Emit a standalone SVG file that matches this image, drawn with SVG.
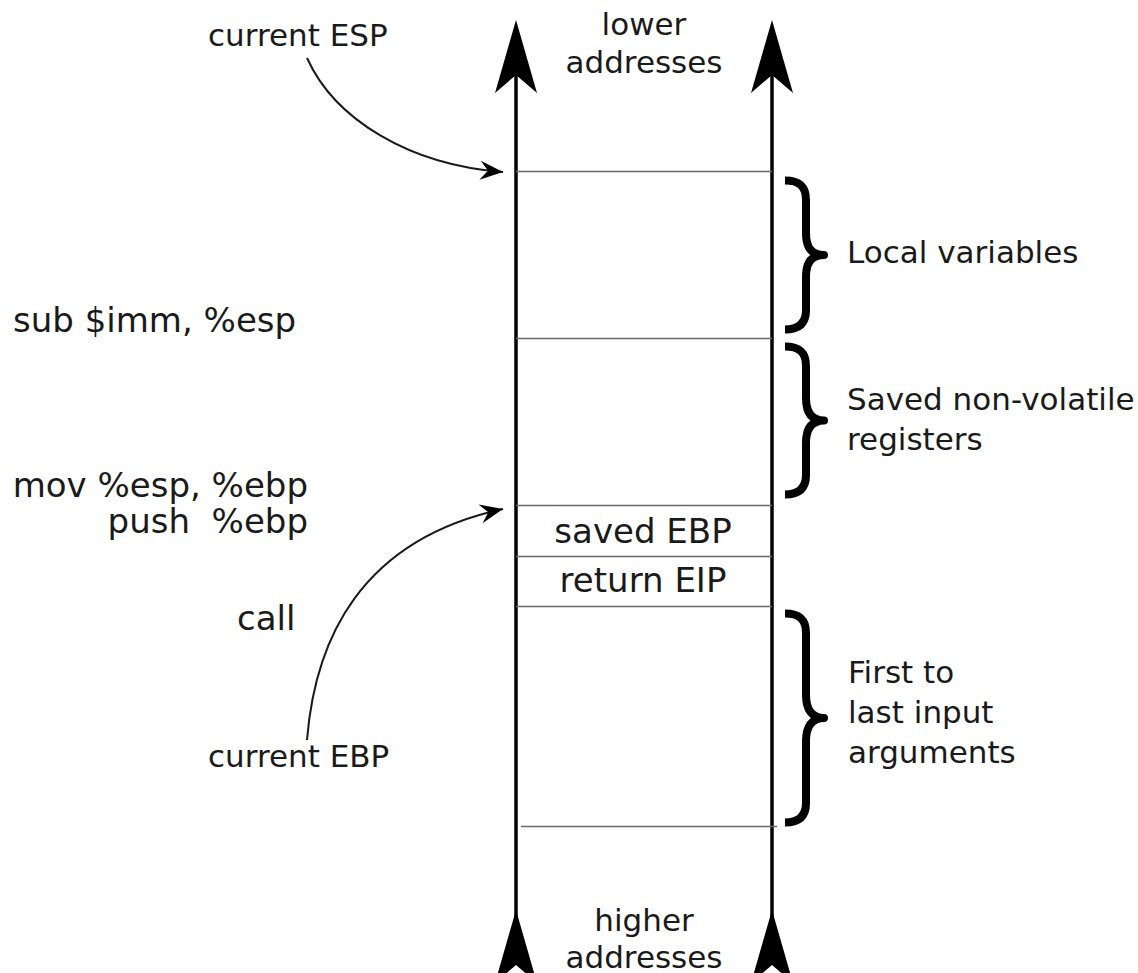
<svg xmlns="http://www.w3.org/2000/svg" xmlns:xlink="http://www.w3.org/1999/xlink" width="1138" height="973" viewBox="0 0 1138 973">
<style>
  text { font-family: "DejaVu Sans", sans-serif; fill: #1a1a1a; }
  .big { font-size: 34px; }
  .med { font-size: 31px; }
  .sm { font-size: 31px; }
  .axis { stroke: #000; stroke-width: 3.5; fill: none; }
  .sep { stroke: #6a6a6a; stroke-width: 1.6; fill: none; }
  .brace { stroke: #000; stroke-width: 8; fill: none; stroke-linecap: butt; stroke-linejoin: round; }
  .curve { stroke: #1a1a1a; stroke-width: 2; fill: none; }
</style>
<defs>
  <path id="bighead" d="M0,0 L21,73 L0,55 L-21,73 Z" fill="#000"/>
  <marker id="arr" markerUnits="userSpaceOnUse" markerWidth="40" markerHeight="24" refX="4" refY="0" orient="auto" viewBox="-20 -12 40 24" overflow="visible">
    <path d="M4,0 L-19,-9.5 L-11,0 L-19,9.5 Z" fill="#000"/>
  </marker>
</defs>
<rect width="1138" height="973" fill="#fff"/>

<g id="axes">
  <line class="axis" x1="516" y1="60" x2="516" y2="930"/>
  <line class="axis" x1="772" y1="60" x2="772" y2="930"/>
  <use xlink:href="#bighead" x="516" y="20"/>
  <use xlink:href="#bighead" x="772" y="20"/>
  <use xlink:href="#bighead" x="516" y="910"/>
  <use xlink:href="#bighead" x="772" y="910"/>
</g>

<g id="separators">
  <line class="sep" x1="516" y1="171.5" x2="772" y2="171.5"/>
  <line class="sep" x1="516" y1="338.5" x2="772" y2="338.5"/>
  <line class="sep" x1="516" y1="505.5" x2="772" y2="505.5"/>
  <line class="sep" x1="516" y1="556.5" x2="772" y2="556.5"/>
  <line class="sep" x1="516" y1="606.5" x2="772" y2="606.5"/>
  <line class="sep" x1="521" y1="826.5" x2="777" y2="826.5"/>
</g>

<g id="cells">
  <text class="big" x="643" y="543" text-anchor="middle">saved EBP</text>
  <text class="big" x="643" y="592" text-anchor="middle">return EIP</text>
</g>

<g id="ends">
  <text class="med" x="644" y="35" text-anchor="middle">lower</text>
  <text class="med" x="644" y="73" text-anchor="middle">addresses</text>
  <text class="med" x="644" y="931" text-anchor="middle">higher</text>
  <text class="med" x="644" y="968" text-anchor="middle">addresses</text>
</g>

<g id="brace-local">
  <path class="brace" d="M785,180.5 C799,180.5 806,186 806,200 L806,233 C806,248 812,255 824,255 C812,255 806,262 806,277 L806,310 C806,323 799,329.5 785,329.5"/>
  <text class="med" x="847" y="263">Local variables</text>
</g>

<g id="brace-saved">
  <path class="brace" d="M785,346.5 C799,346.5 806,352 806,366 L806,398 C806,413 812,420.5 824,420.5 C812,420.5 806,428 806,443 L806,475 C806,488 799,494.5 785,494.5"/>
  <text class="med" x="847" y="410">Saved non-volatile</text>
  <text class="med" x="847" y="450">registers</text>
</g>

<g id="brace-args">
  <path class="brace" d="M785,613.5 C799,613.5 806,619 806,633 L806,695 C806,710 812,718 824,718 C812,718 806,726 806,741 L806,803 C806,816 799,822.5 785,822.5"/>
  <text class="med" x="848" y="683">First to</text>
  <text class="med" x="848" y="723">last input</text>
  <text class="med" x="848" y="763">arguments</text>
</g>

<g id="instructions">
  <text class="big" x="13" y="332" font-size="34.7">sub $imm, %esp</text>
  <text class="big" x="308" y="497" text-anchor="end">mov %esp, %ebp</text>
  <text class="big" x="308" y="533" text-anchor="end" xml:space="preserve">push  %ebp</text>
  <text class="big" x="237" y="630">call</text>
</g>

<g id="pointers">
  <text class="sm" x="208" y="46">current ESP</text>
  <text class="sm" x="208" y="767">current EBP</text>
</g>

<g id="connectors">
  <path class="curve" d="M307,58 C335,120 410,165 503,172" marker-end="url(#arr)"/>
  <path class="curve" d="M307,740 C315,640 360,540 503,509" marker-end="url(#arr)"/>
</g>
</svg>
